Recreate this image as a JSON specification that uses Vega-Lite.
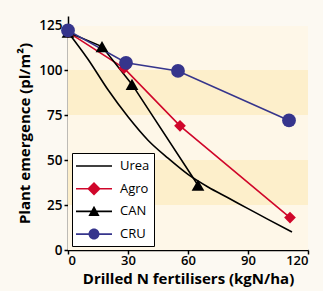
{
  "$schema": "https://vega.github.io/schema/vega-lite/v6.json",
  "width": 240,
  "height": 234,
  "autosize": {"type": "none"},
  "padding": {"left": 68, "top": 16, "right": 15, "bottom": 41},
  "background": "#fcf9f2",
  "config": {
    "view": {"stroke": null},
    "font": "Open Sans",
    "axis": {
      "grid": false,
      "domainColor": "black",
      "domainWidth": 1.5,
      "tickColor": "black",
      "tickWidth": 1.5,
      "tickSize": 4,
      "labelFont": "Open Sans",
      "labelFontSize": 13.5,
      "labelFontWeight": 600,
      "labelColor": "black",
      "titleFont": "Open Sans",
      "titleFontSize": 15,
      "titleFontWeight": 700,
      "titleColor": "black"
    }
  },
  "datasets": {
    "bands": [
      {"lo": 0, "hi": 25, "shade": "light"},
      {"lo": 25, "hi": 50, "shade": "dark"},
      {"lo": 50, "hi": 75, "shade": "light"},
      {"lo": 75, "hi": 100, "shade": "dark"},
      {"lo": 100, "hi": 124.5, "shade": "light"}
    ],
    "series": [
      {"series": "Agro", "n": 0, "pl": 121},
      {"series": "Agro", "n": 28, "pl": 101},
      {"series": "Agro", "n": 56, "pl": 69},
      {"series": "Agro", "n": 111, "pl": 18},
      {"series": "CAN", "n": 0, "pl": 121},
      {"series": "CAN", "n": 17, "pl": 113},
      {"series": "CAN", "n": 32, "pl": 92},
      {"series": "CAN", "n": 65, "pl": 36},
      {"series": "CRU", "n": 0, "pl": 122},
      {"series": "CRU", "n": 29, "pl": 104},
      {"series": "CRU", "n": 55, "pl": 99.5},
      {"series": "CRU", "n": 110.5, "pl": 72}
    ],
    "urea": [
      {"series": "Urea", "n": 0, "pl": 121},
      {"series": "Urea", "n": 10, "pl": 106},
      {"series": "Urea", "n": 20, "pl": 89},
      {"series": "Urea", "n": 30, "pl": 74},
      {"series": "Urea", "n": 40, "pl": 61},
      {"series": "Urea", "n": 50, "pl": 51},
      {"series": "Urea", "n": 60, "pl": 42},
      {"series": "Urea", "n": 70, "pl": 35},
      {"series": "Urea", "n": 80, "pl": 29},
      {"series": "Urea", "n": 90, "pl": 23},
      {"series": "Urea", "n": 100, "pl": 17},
      {"series": "Urea", "n": 112, "pl": 10}
    ],
    "legend": [
      {"series": "Urea"},
      {"series": "Agro"},
      {"series": "CAN"},
      {"series": "CRU"}
    ]
  },
  "resolve": {"scale": {"color": "independent", "shape": "independent", "size": "independent"}},
  "layer": [
    {
      "data": {"name": "bands"},
      "mark": {"type": "rect"},
      "encoding": {
        "x": {"datum": 0, "type": "quantitative"},
        "x2": {"datum": 120},
        "y": {"field": "lo", "type": "quantitative"},
        "y2": {"field": "hi"},
        "fill": {"field": "shade", "type": "nominal", "scale": {"domain": ["light", "dark"], "range": ["#fef7e8", "#fdefcb"]}, "legend": null}
      }
    },
    {
      "data": {"name": "urea"},
      "mark": {"type": "line", "interpolate": "monotone", "strokeWidth": 1.6, "color": "black"},
      "encoding": {
        "x": {"field": "n", "type": "quantitative"},
        "y": {"field": "pl", "type": "quantitative"}
      }
    },
    {
      "data": {"name": "series"},
      "mark": {"type": "line", "strokeWidth": 1.6},
      "encoding": {
        "x": {"field": "n", "type": "quantitative"},
        "y": {"field": "pl", "type": "quantitative"},
        "color": {"field": "series", "type": "nominal", "scale": {"domain": ["Urea", "Agro", "CAN", "CRU"], "range": ["#000000", "#d0062a", "#000000", "#36358c"]}, "legend": null}
      }
    },
    {
      "data": {"name": "series"},
      "mark": {"type": "point", "filled": true, "opacity": 1},
      "encoding": {
        "x": {"field": "n", "type": "quantitative"},
        "y": {"field": "pl", "type": "quantitative"},
        "color": {"field": "series", "type": "nominal", "scale": {"domain": ["Urea", "Agro", "CAN", "CRU"], "range": ["#000000", "#d0062a", "#000000", "#36358c"]}, "legend": null},
        "shape": {"field": "series", "type": "nominal", "scale": {"domain": ["Urea", "Agro", "CAN", "CRU"], "range": ["circle", "diamond", "triangle-up", "circle"]}, "legend": null},
        "size": {"field": "series", "type": "nominal", "scale": {"domain": ["Urea", "Agro", "CAN", "CRU"], "range": [110, 190, 130, 110]}, "legend": null}
      }
    },
    {
      "data": {"name": "legend"},
      "mark": {"type": "point", "filled": true, "opacity": 0, "size": 324},
      "encoding": {
        "x": {
          "datum": 0, "type": "quantitative",
          "scale": {"domain": [0, 120]},
          "axis": {"values": [0, 30, 60, 90, 120], "title": "Drilled N fertilisers (kgN/ha)", "titlePadding": 4, "labelPadding": 0, "labelFontSize": 13}
        },
        "y": {
          "datum": 0, "type": "quantitative",
          "scale": {"domain": [0, 125]},
          "axis": {"values": [0, 25, 50, 75, 100, 125], "title": "Plant emergence (pl/m²)", "titlePadding": 6, "labelPadding": 2}
        },
        "color": {"field": "series", "type": "nominal", "scale": {"domain": ["Urea", "Agro", "CAN", "CRU"], "range": ["#000000", "#d0062a", "#000000", "#36358c"]}, "legend": {"title": null}},
        "shape": {
          "field": "series", "type": "nominal",
          "scale": {
            "domain": ["Urea", "Agro", "CAN", "CRU"],
            "range": [
              "M-2,-0.09H2V0.09H-2Z",
              "M-2,-0.09H2V0.09H-2Z M0,-0.75L0.75,0L0,0.75L-0.75,0Z",
              "M-2,-0.09H2V0.09H-2Z M0,-0.62L0.62,0.5L-0.62,0.5Z",
              "M-2,-0.09H2V0.09H-2Z M0.61,0A0.61,0.61,0,1,1,-0.61,0A0.61,0.61,0,1,1,0.61,0Z"
            ]
          },
          "legend": {
            "title": null,
            "orient": "bottom-left",
            "offset": 4,
            "padding": 4,
            "strokeColor": "black",
            "fillColor": "white",
            "symbolSize": 324,
            "symbolOpacity": 1,
            "symbolStrokeWidth": 0,
            "symbolOffset": 9,
            "labelOffset": 17,
            "rowPadding": 6.7,
            "labelFont": "Open Sans",
            "labelFontSize": 13,
            "labelColor": "black"
          }
        }
      }
    }
  ]
}
